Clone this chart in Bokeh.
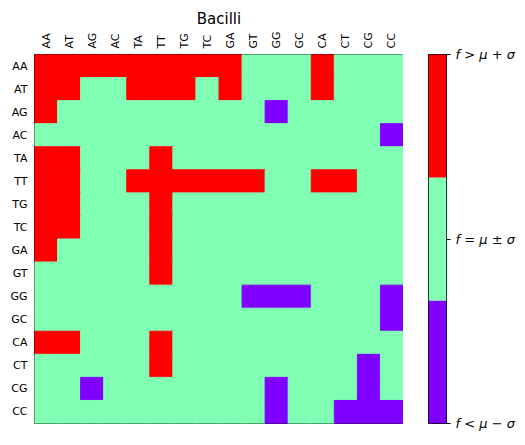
from bokeh.plotting import figure
from bokeh.models import ColumnDataSource, LinearColorMapper, FixedTicker, FactorRange, Range1d, LinearAxis
from bokeh.layouts import row
from bokeh.embed import file_html
from bokeh.resources import INLINE
from math import pi

labels = ["AA", "AT", "AG", "AC", "TA", "TT", "TG", "TC", "GA", "GT", "GG", "GC", "CA", "CT", "CG", "CC"]

# -1: f < mu - sigma, 0: f = mu +/- sigma, 1: f > mu + sigma
row_AA = [1, 1, 1, 1, 1, 1, 1, 1, 1, 0, 0, 0, 1, 0, 0, 0]
row_AT = [1, 1, 0, 0, 1, 1, 1, 0, 1, 0, 0, 0, 1, 0, 0, 0]
row_AG = [1, 0, 0, 0, 0, 0, 0, 0, 0, 0, -1, 0, 0, 0, 0, 0]
row_AC = [0, 0, 0, 0, 0, 0, 0, 0, 0, 0, 0, 0, 0, 0, 0, -1]
row_TA = [1, 1, 0, 0, 0, 1, 0, 0, 0, 0, 0, 0, 0, 0, 0, 0]
row_TT = [1, 1, 0, 0, 1, 1, 1, 1, 1, 1, 0, 0, 1, 1, 0, 0]
row_TG = [1, 1, 0, 0, 0, 1, 0, 0, 0, 0, 0, 0, 0, 0, 0, 0]
row_TC = [1, 1, 0, 0, 0, 1, 0, 0, 0, 0, 0, 0, 0, 0, 0, 0]
row_GA = [1, 0, 0, 0, 0, 1, 0, 0, 0, 0, 0, 0, 0, 0, 0, 0]
row_GT = [0, 0, 0, 0, 0, 1, 0, 0, 0, 0, 0, 0, 0, 0, 0, 0]
row_GG = [0, 0, 0, 0, 0, 0, 0, 0, 0, -1, -1, -1, 0, 0, 0, -1]
row_GC = [0, 0, 0, 0, 0, 0, 0, 0, 0, 0, 0, 0, 0, 0, 0, -1]
row_CA = [1, 1, 0, 0, 0, 1, 0, 0, 0, 0, 0, 0, 0, 0, 0, 0]
row_CT = [0, 0, 0, 0, 0, 1, 0, 0, 0, 0, 0, 0, 0, 0, -1, 0]
row_CG = [0, 0, -1, 0, 0, 0, 0, 0, 0, 0, -1, 0, 0, 0, -1, 0]
row_CC = [0, 0, 0, 0, 0, 0, 0, 0, 0, 0, -1, 0, 0, -1, -1, -1]

rows = [row_AA, row_AT, row_AG, row_AC, row_TA, row_TT, row_TG, row_TC,
        row_GA, row_GT, row_GG, row_GC, row_CA, row_CT, row_CG, row_CC]

cbar_ticks = [-1, 0, 1]
cbar_labels = ["f < μ − σ", "f = μ ± σ", "f > μ + σ"]
palette = ["#8000ff", "#80ffb4", "#ff0000"]

xs, ys, vs = [], [], []
for r, rw in zip(labels, rows):
    for c, v in zip(labels, rw):
        xs.append(c)
        ys.append(r)
        vs.append(v)
src = ColumnDataSource(dict(x=xs, y=ys, v=vs))

low, high = cbar_ticks[0], cbar_ticks[-1]
mapper = LinearColorMapper(palette=palette, low=low, high=high)

FRAME = 369
TOP = 54
BOTTOM = 14

p = figure(frame_width=FRAME, frame_height=FRAME, output_backend="svg", toolbar_location=None,
           x_range=FactorRange(*labels), y_range=FactorRange(*reversed(labels)),
           x_axis_location="above", title="Bacilli",
           min_border_left=34, min_border_right=0, min_border_top=TOP, min_border_bottom=BOTTOM)
p.rect(x="x", y="y", width=1, height=1, source=src,
       fill_color={"field": "v", "transform": mapper},
       line_color={"field": "v", "transform": mapper}, line_width=1)

p.title.align = "center"
p.title.vertical_align = "bottom"
p.title.text_font = "DejaVu Sans"
p.title.text_font_size = "15px"
p.title.text_font_style = "normal"
p.title.text_color = "black"
p.title.offset = 0
p.title.standoff = 2

p.outline_line_color = "black"
p.outline_line_width = 1
p.outline_line_alpha = 1
p.grid.visible = False
for ax in (p.xaxis[0], p.yaxis[0]):
    ax.axis_line_color = None
    ax.major_tick_line_color = None
    ax.minor_tick_line_color = None
    ax.major_label_text_font = "DejaVu Sans"
    ax.major_label_text_font_size = "11px"
    ax.major_label_text_color = "black"
p.xaxis.major_label_standoff = 0
p.yaxis.major_label_standoff = 1
p.xaxis.major_label_orientation = pi / 2

# colour bar as a small separate figure
n = len(palette)
step = (high - low) / n
cb_src = ColumnDataSource(dict(bottom=[low + i * step for i in range(n)],
                               top=[low + (i + 1) * step for i in range(n)],
                               color=palette))
p2 = figure(frame_width=18, frame_height=FRAME, output_backend="svg", toolbar_location=None,
            x_range=Range1d(0, 1), y_range=Range1d(low, high),
            x_axis_location=None, y_axis_location=None,
            min_border_left=25, min_border_right=0, min_border_top=TOP, min_border_bottom=BOTTOM)
p2.quad(left=0, right=1, bottom="bottom", top="top", fill_color="color", line_color=None, source=cb_src)
p2.grid.visible = False
p2.outline_line_color = "black"
p2.outline_line_width = 1
cax = LinearAxis(ticker=FixedTicker(ticks=cbar_ticks),
                 major_label_overrides={t: l for t, l in zip(cbar_ticks, cbar_labels)})
cax.axis_line_color = None
cax.major_tick_line_color = "black"
cax.major_tick_out = 4
cax.major_tick_in = 0
cax.minor_tick_line_color = None
cax.major_label_text_font = "DejaVu Sans"
cax.major_label_text_font_size = "13px"
cax.major_label_text_font_style = "italic"
cax.major_label_text_color = "black"
cax.major_label_standoff = 5
p2.add_layout(cax, "right")

layout = row(p, p2)
open("out.html", "w").write(file_html(layout, INLINE))
